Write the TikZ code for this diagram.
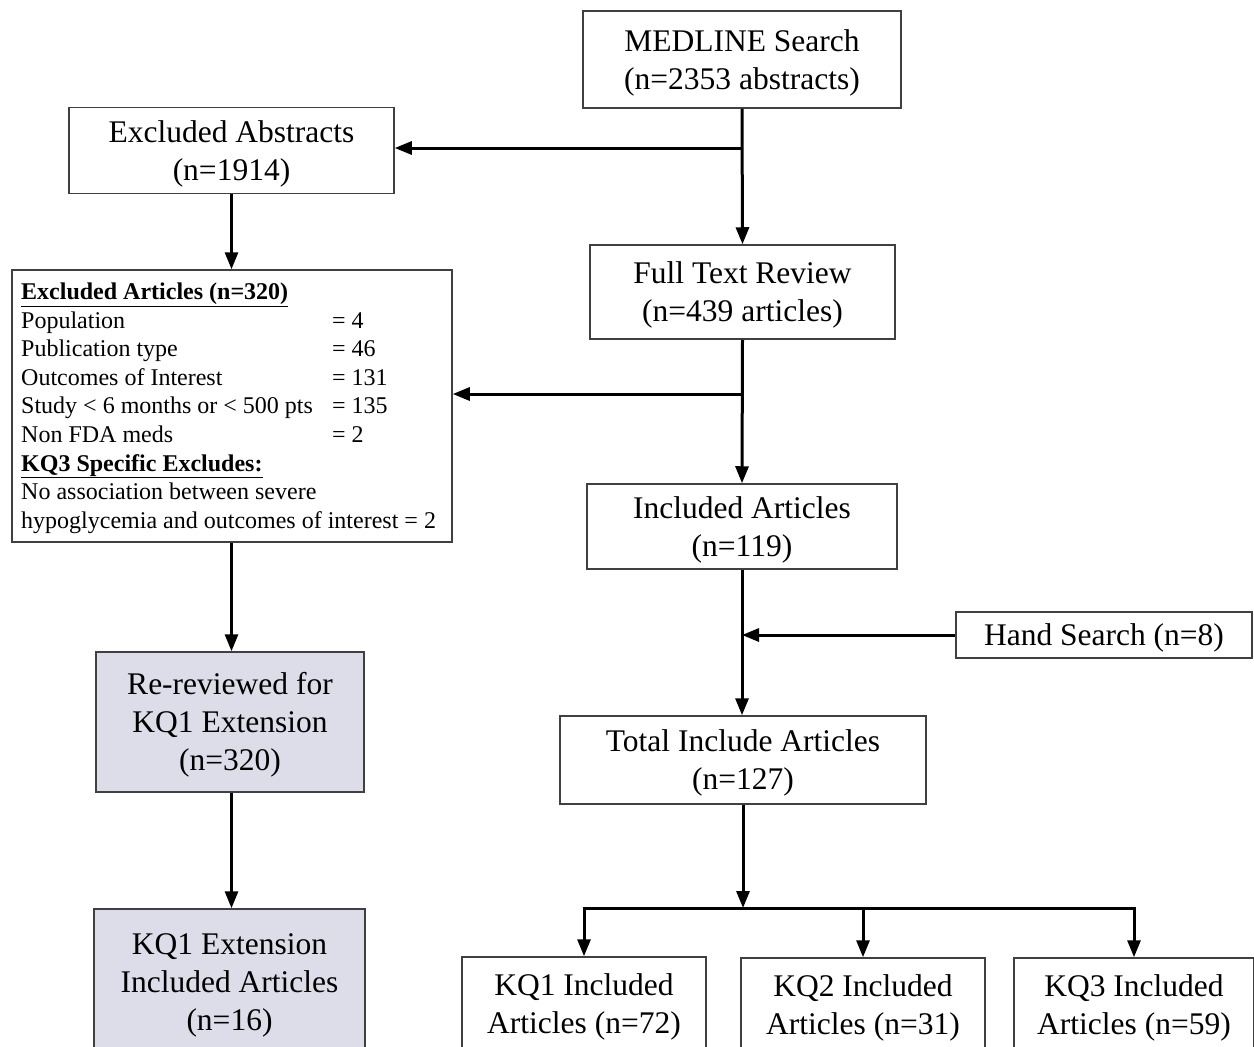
\documentclass[tikz,border=0pt]{standalone}
\usepackage{fontspec}
\setmainfont{Liberation Serif}
\usetikzlibrary{arrows.meta}
\definecolor{lav}{RGB}{221,221,234}
\newcommand{\bigtxt}{\fontsize{31.5}{38}\selectfont}
\newcommand{\smtxt}{\fontsize{24}{28.6}\selectfont}
\newcommand{\bt}[1]{\raisebox{-3pt}[\height][\depth]{\begin{tabular}{@{}c@{}}#1\end{tabular}}}
\begin{document}
\begin{tikzpicture}[x=1pt,y=-1pt,
  box/.style={draw=black!75,line width=1.5pt,inner sep=0pt,align=center,font=\bigtxt},
  arr/.style={line width=3pt,-{Triangle[length=17pt,width=13pt]}},
  ln/.style={line width=3pt,line cap=rect},
  sline/.style={anchor=base west,inner sep=0pt,font=\smtxt}]
\useasboundingbox (0,0) rectangle (1254,1047);
% right column
\node[box,minimum width=318pt,minimum height=97pt] (medline) at (742,59.5) {\bt{MEDLINE Search\\(n=2353 abstracts)}};
\node[box,minimum width=305pt,minimum height=94pt] (fulltext) at (742.5,292) {\bt{Full Text Review\\(n=439 articles)}};
\node[box,minimum width=310pt,minimum height=85pt] (included) at (742,526.5) {\bt{Included Articles\\(n=119)}};
\node[box,minimum width=296pt,minimum height=46pt] (hand) at (1104,635) {\bt{Hand Search (n=8)}};
\node[box,minimum width=366pt,minimum height=88pt] (total) at (743,760) {\bt{Total Include Articles\\(n=127)}};
\node[box,minimum width=244pt,minimum height=94pt] (kqa) at (584,1004) {\bt{KQ1 Included\\Articles (n=72)}};
\node[box,minimum width=244pt,minimum height=94pt] (kqb) at (863,1005) {\bt{KQ2 Included\\Articles (n=31)}};
\node[box,minimum width=240pt,minimum height=94pt] (kqc) at (1134,1005) {\bt{KQ3 Included\\Articles (n=59)}};
% left column
\node[box,minimum width=325pt,minimum height=86pt] (exabs) at (231.5,150.5) {\bt{Excluded Abstracts\\(n=1914)}};
\node[draw=black!75,line width=1.5pt,minimum width=440pt,minimum height=272pt,inner sep=0pt] (exart) at (232,406) {};
\node[box,fill=lav,minimum width=268pt,minimum height=140pt] (rerev) at (230,722) {\bt{Re-reviewed for\\KQ1 Extension\\(n=320)}};
\node[box,fill=lav,minimum width=271pt,minimum height=146pt] (kqext) at (229.5,982) {\bt{KQ1 Extension\\Included Articles\\(n=16)}};
% excluded articles text
\node[sline] (h0) at (21,299.5) {\underline{\textbf{Excluded Articles (n=320)}}};
\node[sline] (r1) at (21,328.1) {\makebox[311pt][l]{Population}= 4};
\node[sline] (r2) at (21,356.7) {\makebox[311pt][l]{Publication type}= 46};
\node[sline] (r3) at (21,385.3) {\makebox[311pt][l]{Outcomes of Interest}= 131};
\node[sline] (r4) at (21,413.9) {\makebox[311pt][l]{Study < 6 months or < 500 pts}= 135};
\node[sline] (r5) at (21,442.5) {\makebox[311pt][l]{Non FDA meds}= 2};
\node[sline] (h6) at (21,471.1) {\underline{\textbf{KQ3 Specific Excludes:}}};
\node[sline] (r7) at (21,499.7) {No association between severe};
\node[sline] (r8) at (21,528.3) {hypoglycemia and outcomes of interest = 2};
% connectors
\coordinate (j1) at (742,148);
\coordinate (j2) at (742,394);
\coordinate (j3) at (742,908);
\draw[arr] (medline.south) -- (fulltext.north);
\draw[arr] (j1) -- (j1 -| exabs.east);
\draw[arr] (fulltext.south) -- (included.north);
\draw[arr] (j2) -- (j2 -| exart.east);
\draw[arr] (included.south) -- (included.south |- total.north);
\draw[arr] (hand.west) -- (hand.west -| included.south);
\draw[arr] (total.south) -- (total.south |- j3);
\draw[ln] (j3 -| kqa.north) -- (j3 -| kqc.north);
\draw[arr] (j3 -| kqa.north) -- (kqa.north);
\draw[arr] (j3 -| kqb.north) -- (kqb.north);
\draw[arr] (j3 -| kqc.north) -- (kqc.north);
\draw[arr] (exabs.south) -- (exabs.south |- exart.north);
\draw[arr] (exabs.south |- exart.south) -- (exabs.south |- rerev.north);
\draw[arr] (exabs.south |- rerev.south) -- (exabs.south |- kqext.north);
\end{tikzpicture}
\end{document}
